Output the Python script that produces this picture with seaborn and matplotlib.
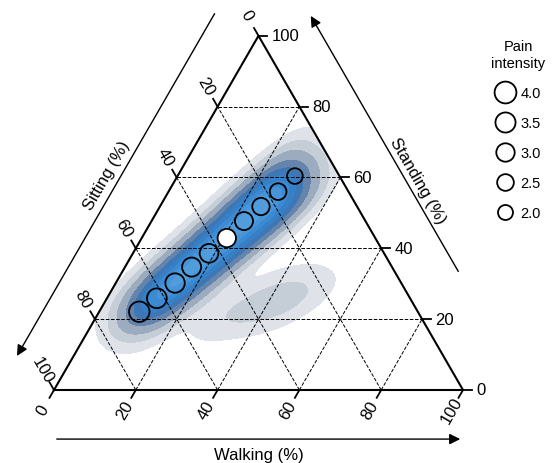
import numpy as np
import pandas as pd
import seaborn as sns
import matplotlib.pyplot as plt
from matplotlib.colors import LinearSegmentedColormap
from matplotlib.patches import Polygon
from matplotlib.lines import Line2D

# mean compositions (%) along the pain gradient
sitting = [68.1, 61.9, 55.3, 49.0, 42.8, 36.3, 29.7, 23.5, 17.2, 10.9]
walking = [9.8, 12.2, 14.5, 16.3, 18.6, 20.8, 22.6, 24.7, 26.8, 28.7]
standing = [22.1, 25.9, 30.2, 34.7, 38.6, 42.9, 47.7, 51.8, 56.0, 60.4]
pain = [3.6, 3.4, 3.3, 3.2, 3.1, 3.0, 2.9, 2.7, 2.5, 2.2]
is_mean = [0, 0, 0, 0, 0, 1, 0, 0, 0, 0]

# density anchors: ridge, upper flank, lower flank, lobe
cloud_walk = [9.8, 12.2, 14.5, 16.3, 18.6, 20.8, 22.6, 24.7, 26.8, 28.7,
              5.0, 7.3, 9.6, 11.6, 13.6, 15.9, 17.7, 20.0, 22.0, 23.6, 24.1,
              14.6, 17.2, 19.5, 21.5, 23.7, 26.0, 27.9, 30.2, 32.2, 34.0,
              28.0, 32.3, 36.0, 40.2, 44.0, 47.3, 52.3, 38.5, 45.0]
cloud_stand = [22.1, 25.9, 30.2, 34.7, 38.6, 42.9, 47.7, 51.8, 56.0, 60.4,
               25.7, 29.9, 34.2, 38.4, 42.7, 46.9, 51.7, 55.9, 60.2, 64.7, 68.1,
               18.6, 22.3, 26.6, 30.8, 34.7, 39.0, 43.5, 47.7, 52.0, 56.2,
               20.5, 21.5, 22.0, 22.9, 24.0, 25.7, 28.0, 28.5, 30.5]
cloud_w = [1, 1, 1, 1, 1, 1, 1, 1, 1, 1,
           0.45, 0.5, 0.5, 0.5, 0.5, 0.55, 0.6, 0.6, 0.6, 0.45, 0.25,
           0.5, 0.5, 0.5, 0.5, 0.55, 0.6, 0.65, 0.7, 0.7, 0.6,
           0.3, 0.3, 0.3, 0.3, 0.3, 0.3, 0.22, 0.3, 0.2]

legend_pain = [4.0, 3.5, 3.0, 2.5, 2.0]
ticks = [0, 20, 40, 60, 80, 100]

H = np.sqrt(3) / 2


def to_xy(w, st):
    w = np.asarray(w) / 100
    st = np.asarray(st) / 100
    return w + st / 2, st * H


def msize(p):
    d_px = 15 + (np.asarray(p) - 2) * 3.4
    return d_px * 0.72


plt.rcParams["font.family"] = ["Liberation Sans", "DejaVu Sans"]
fig = plt.figure(figsize=(5.58, 4.64), dpi=100)
ax = fig.add_axes([0, 0, 1, 1])
ax.set_xlim(-54 / 409, 504 / 409)
ax.set_ylim(-73 / 409, 391 / 409)
ax.axis("off")

# density
cx, cy = to_xy(cloud_walk, cloud_stand)
cloud = pd.DataFrame({"x": cx, "y": cy, "w": cloud_w})
cmap = LinearSegmentedColormap.from_list(
    "pain", ["#e9ecf0", "#d2d8e0", "#b5bfcc", "#8d9fb6", "#5d80a9",
             "#3b76b6", "#3482ca", "#418fd6", "#55a0dd"])
sns.kdeplot(data=cloud, x="x", y="y", weights="w", fill=True, levels=10,
            thresh=0.05, cmap=cmap, bw_adjust=0.78, ax=ax, zorder=1)
tri = Polygon([[0, 0], [1, 0], [0.5, H]], closed=True, fc="none", ec="none")
ax.add_patch(tri)
for c in ax.collections:
    c.set_clip_path(tri)

# grid
for v in [0.2, 0.4, 0.6, 0.8]:
    ax.plot([v / 2, 1 - v / 2], [v * H, v * H], ls="--", color="k", lw=0.7, zorder=2)
    ax.plot([v, (1 + v) / 2], [0, (1 - v) * H], ls="--", color="k", lw=0.7, zorder=2)
    ax.plot([v, v / 2], [0, v * H], ls="--", color="k", lw=0.7, zorder=2)

ax.plot([0, 1, 0.5, 0], [0, 0, H, 0], color="k", lw=1.5, zorder=3)

# ticks
t = 0.022
for v in ticks:
    f = v / 100
    # walking (bottom)
    ax.plot([f, f - 0.5 * t], [0, -H * t], color="k", lw=1.3)
    ax.text(f - 0.5 * 0.055, -H * 0.055, str(v), rotation=60, ha="center",
            va="center", fontsize=12)
    # sitting (left)
    px, py = (1 - f) / 2, (1 - f) * H
    ax.plot([px, px - 0.5 * t], [py, py + H * t], color="k", lw=1.3)
    ax.text(px - 0.5 * 0.058, py + H * 0.058, str(v), rotation=-60, ha="center",
            va="center", fontsize=12)
    # standing (right)
    px, py = 1 - f / 2, f * H
    ax.plot([px, px + t], [py, py], color="k", lw=1.3)
    ax.text(px + t + 0.01, py, str(v), ha="left", va="center", fontsize=12)

# axis arrows and titles
d = 0.12
n = np.array([-H, 0.5])
u = np.array([0.5, H])
a0 = n * d + u * 1.0
a1 = n * d + u * 0.02
ax.annotate("", xy=a1, xytext=a0,
            arrowprops=dict(arrowstyle="-|>", color="k", lw=1.0, mutation_scale=16))
m = n * 0.152 + u * 0.52
ax.text(m[0], m[1], "Sitting (%)", rotation=60, ha="center", va="center", fontsize=12)

d = 0.135
n = np.array([H, 0.5])
u = np.array([-0.5, H])
b0 = np.array([1, 0]) + n * d + u * 0.25
b1 = np.array([1, 0]) + n * d + u * 0.985
ax.annotate("", xy=b1, xytext=b0,
            arrowprops=dict(arrowstyle="-|>", color="k", lw=1.0, mutation_scale=16))
m = np.array([1, 0]) + n * 0.16 + u * 0.5
ax.text(m[0], m[1], "Standing (%)", rotation=-60, ha="center", va="center", fontsize=12)

ax.annotate("", xy=(1.0, -0.12), xytext=(0.0, -0.12),
            arrowprops=dict(arrowstyle="-|>", color="k", lw=1.0, mutation_scale=16))
ax.text(0.5, -0.158, "Walking (%)", ha="center", va="center", fontsize=12)

# mean compositions
x, y = to_xy(walking, standing)
face = ["white" if k else "none" for k in is_mean]
ax.scatter(x, y, s=msize(pain) ** 2, facecolors=face, edgecolors="k",
           linewidths=1.3, zorder=5)

# legend
handles = [Line2D([], [], ls="none", marker="o", mfc="none", mec="k", mew=1.3,
                  markersize=msize(p)) for p in legend_pain]
leg = ax.legend(handles, [f"{p:.1f}" for p in legend_pain], title="Pain\nintensity",
                loc="upper right", bbox_to_anchor=(0.995, 0.935), frameon=False,
                fontsize=10.5, title_fontsize=10.5, labelspacing=1.1,
                handletextpad=0.35, handlelength=1.4, borderaxespad=0.3,
                alignment="center")
leg.get_title().set_multialignment("center")

fig.savefig("out.png", dpi=100)
